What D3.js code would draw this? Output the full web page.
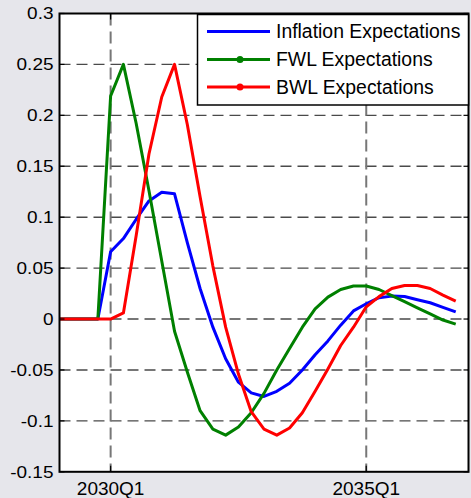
<!DOCTYPE html>
<html><head><meta charset="utf-8">
<script src="https://cdn.jsdelivr.net/npm/d3@7/dist/d3.min.js"></script>
<style>
html,body{margin:0;padding:0;background:#e6e6eb;}
svg{display:block;}
text{font-family:"Liberation Sans",Arial,Helvetica,sans-serif;fill:#000;}
</style></head>
<body>
<svg id="chart" width="471" height="498"></svg>
<script>
// quarters 2029Q1 .. 2036Q4
const categories = [];
for (let y = 2029; y <= 2036; y++) for (let q = 1; q <= 4; q++) categories.push(y + "Q" + q);

const xTickLabels = ["2030Q1", "2035Q1"];
const yTicks = [-0.15, -0.1, -0.05, 0, 0.05, 0.1, 0.15, 0.2, 0.25, 0.3];
const yTickLabels = ["-0.15", "-0.1", "-0.05", "0", "0.05", "0.1", "0.15", "0.2", "0.25", "0.3"];

const seriesNames = ["Inflation Expectations", "FWL Expectations", "BWL Expectations"];
const seriesColors = ["#0000ff", "#008000", "#ff0000"];
const seriesMarkers = [false, true, true];

const inflation = [0, 0, 0, 0, 0.066, 0.079, 0.098, 0.116, 0.1245, 0.123,
  0.075, 0.030, -0.008, -0.039, -0.062, -0.0725, -0.076, -0.071, -0.063, -0.050,
  -0.035, -0.0215, -0.006, 0.008, 0.015, 0.021, 0.0225, 0.0222, 0.019, 0.016,
  0.0115, 0.007];
const fwl = [0, 0, 0, 0, 0.219, 0.250, 0.192, 0.126, 0.057, -0.012,
  -0.052, -0.090, -0.108, -0.114, -0.106, -0.092, -0.073, -0.050, -0.029, -0.008,
  0.010, 0.0215, 0.029, 0.0325, 0.0325, 0.029, 0.023, 0.017, 0.011, 0.005,
  -0.001, -0.005];
const bwl = [0, 0, 0, 0, 0, 0.006, 0.082, 0.162, 0.218, 0.250,
  0.191, 0.120, 0.052, -0.008, -0.054, -0.091, -0.108, -0.114, -0.107, -0.092,
  -0.071, -0.049, -0.026, -0.008, 0.012, 0.022, 0.030, 0.033, 0.033, 0.030,
  0.0235, 0.0175];
const seriesValues = [inflation, fwl, bwl];

const L = 59.5, R = 468.5, T = 13.5, B = 471.8;
const svg = d3.select("#chart");

const x = d3.scaleLinear().domain([0, categories.length]).range([L, R]);
const y = d3.scaleLinear().domain([-0.15, 0.3]).range([B, T]);

// plot background
svg.append("rect").attr("x", L).attr("y", T).attr("width", R - L).attr("height", B - T).attr("fill", "#fff");

// grid
const grid = svg.append("g");
yTicks.filter(v => v > -0.15 && v < 0.3).forEach(v => {
  grid.append("line").attr("x1", L).attr("x2", R).attr("y1", y(v)).attr("y2", y(v))
    .attr("stroke", "#4a4a4a").attr("stroke-width", 1.4).attr("stroke-dasharray", "11,6");
});
xTickLabels.forEach(lab => {
  const xi = x(categories.indexOf(lab));
  grid.append("line").attr("x1", xi).attr("x2", xi).attr("y1", T).attr("y2", B)
    .attr("stroke", "#777").attr("stroke-width", 2).attr("stroke-dasharray", "12,6");
});

// lines
const line = d3.line().x((d, i) => x(i)).y(d => y(d));
seriesValues.forEach((vals, k) => {
  svg.append("path").datum(vals).attr("d", line).attr("fill", "none")
    .attr("stroke", seriesColors[k]).attr("stroke-width", 3).attr("stroke-linejoin", "round");
});

// ticks
const ticks = svg.append("g").attr("stroke", "#000").attr("stroke-width", 1.2);
yTicks.forEach(v => {
  ticks.append("line").attr("x1", L).attr("x2", L + 5).attr("y1", y(v)).attr("y2", y(v));
  ticks.append("line").attr("x1", R).attr("x2", R - 5).attr("y1", y(v)).attr("y2", y(v));
});
xTickLabels.forEach(lab => {
  const xi = x(categories.indexOf(lab));
  ticks.append("line").attr("x1", xi).attr("x2", xi).attr("y1", B).attr("y2", B - 6);
  ticks.append("line").attr("x1", xi).attr("x2", xi).attr("y1", T).attr("y2", T + 6);
});

// frame
svg.append("rect").attr("x", L).attr("y", T).attr("width", R - L).attr("height", B - T)
  .attr("fill", "none").attr("stroke", "#000").attr("stroke-width", 2);

// y labels
yTicks.forEach((v, i) => {
  svg.append("g").attr("transform", `translate(53.5,${y(v) + 5.7}) scale(1,0.84)`)
    .append("text").attr("text-anchor", "end").attr("font-size", 19).text(yTickLabels[i]);
});
// x labels
xTickLabels.forEach(lab => {
  svg.append("text").attr("x", x(categories.indexOf(lab))).attr("y", 494.5)
    .attr("text-anchor", "middle").attr("font-size", 19).text(lab);
});

// legend
const lg = svg.append("g");
lg.append("rect").attr("x", 197.5).attr("y", 14.5).attr("width", 271).attr("height", 90.5)
  .attr("fill", "#fff").attr("stroke", "#000").attr("stroke-width", 1.5);
const rowY = [31.5, 59.5, 87];
seriesNames.forEach((name, k) => {
  lg.append("line").attr("x1", 207).attr("x2", 270).attr("y1", rowY[k]).attr("y2", rowY[k])
    .attr("stroke", seriesColors[k]).attr("stroke-width", 3);
  if (seriesMarkers[k]) lg.append("circle").attr("cx", 240).attr("cy", rowY[k]).attr("r", 3.5).attr("fill", seriesColors[k]);
  lg.append("text").attr("x", 276).attr("y", rowY[k] + 6.9).attr("font-size", 19.4).text(name);
});
</script>
</body></html>
